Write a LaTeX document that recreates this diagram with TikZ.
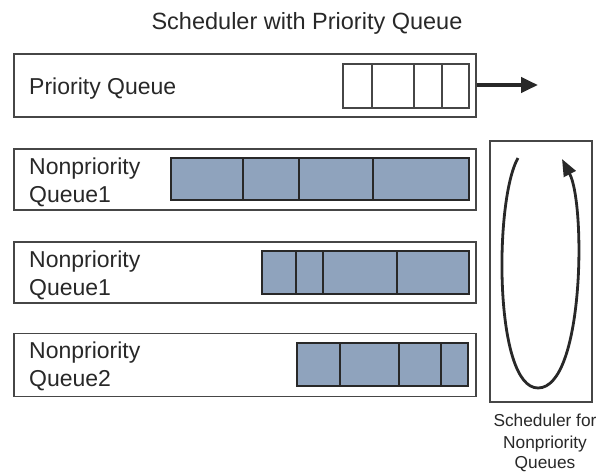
\documentclass[tikz,border=0pt]{standalone}
\usepackage{fontspec}
\setmainfont{Liberation Sans}
\usetikzlibrary{arrows.meta}
\definecolor{ink}{RGB}{40,40,40}
\definecolor{frame}{RGB}{70,70,70}
\definecolor{cellblue}{RGB}{143,163,189}
\tikzset{
  queuebox/.style={draw=frame, line width=1.1pt, fill=white, inner sep=0pt},
  emptycell/.style={draw=frame, line width=1.1pt, fill=white},
  fullcell/.style={draw=ink, line width=1.3pt, fill=cellblue},
  divider/.style={draw=ink, line width=1.3pt},
  qlabel/.style={text=ink, font=\fontsize{23}{28}\selectfont, inner sep=0pt, anchor=base west},
  titletext/.style={text=ink, font=\fontsize{23.5}{28}\selectfont, inner sep=0pt, anchor=base},
  captext/.style={text=ink, font=\fontsize{17.3}{22}\selectfont, inner sep=0pt, anchor=base},
  outarrow/.style={draw=ink, line width=4pt, -{Triangle[length=17pt,width=15pt]}},
  looparrow/.style={draw=ink, line width=2.8pt, -{Triangle[length=17pt,width=13pt]}}
}
\begin{document}
\begin{tikzpicture}[x=1pt,y=-1pt]
\useasboundingbox[fill=white] (0,0) rectangle (598,472);

% title
\node[titletext] (title) at (307,29) {Scheduler with Priority Queue};

% queue frames
\node[queuebox, minimum width=462pt, minimum height=63pt] (pq)  at (245,85.5) {};
\node[queuebox, minimum width=462pt, minimum height=61pt] (np1) at (245,179.5) {};
\node[queuebox, minimum width=462pt, minimum height=61pt] (np2) at (245,272.5) {};
\node[queuebox, minimum width=462pt, minimum height=63pt] (np3) at (245,365) {};

% scheduler frame
\node[queuebox, minimum width=102pt, minimum height=261pt] (sched) at (541,271.5) {};

% labels
\node[qlabel] (pqlabel) at (29,94) {Priority Queue};
\node[qlabel] (np1a) at (29,174) {Nonpriority};
\node[qlabel] (np1b) at (29,202) {Queue1};
\node[qlabel] (np2a) at (29,267) {Nonpriority};
\node[qlabel] (np2b) at (29,295) {Queue1};
\node[qlabel] (np3a) at (29,358) {Nonpriority};
\node[qlabel] (np3b) at (29,386) {Queue2};

% priority queue slots (empty)
\draw[emptycell] (343,64) rectangle (469,108);
\foreach \x in {372,414,442} \draw[divider, draw=frame, line width=1.1pt] (\x,64) -- (\x,108);

% nonpriority queue slots (filled)
\draw[fullcell] (171,158) rectangle (469,200);
\foreach \x in {243,299,373} \draw[divider] (\x,158) -- (\x,200);

\draw[fullcell] (262,251) rectangle (469,294);
\foreach \x in {296,323,397} \draw[divider] (\x,251) -- (\x,294);

\draw[fullcell] (297,343) rectangle (468,386);
\foreach \x in {340,399,441} \draw[divider] (\x,343) -- (\x,386);

% output of the priority queue
\coordinate (out) at (538,85);
\draw[outarrow] (pq.east |- out) -- (out);

% round-robin loop of the scheduler
\coordinate (loopstart) at (518,158);
\coordinate (loopbottom) at (538,388);
\coordinate (loopend) at (562,159);
\draw[looparrow] (loopstart) .. controls (494,200) and (494,388) .. (loopbottom)
  .. controls (584,388) and (586,205) .. (loopend);

% caption
\node[captext] (cap1) at (545,426) {Scheduler for};
\node[captext] (cap2) at (545,448) {Nonpriority};
\node[captext] (cap3) at (545,468) {Queues};
\end{tikzpicture}
\end{document}
